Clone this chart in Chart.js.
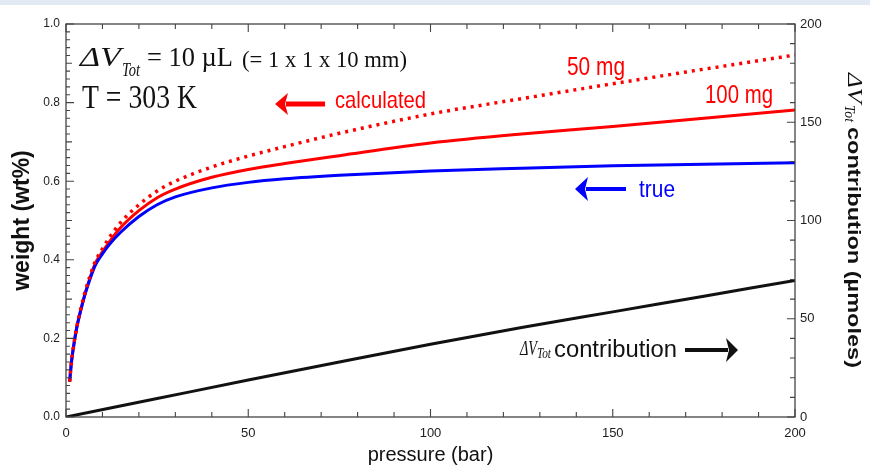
<!DOCTYPE html>
<html>
<head>
<meta charset="utf-8">
<title>weight vs pressure</title>
<script src="https://cdn.jsdelivr.net/npm/chart.js@4.4.1/dist/chart.umd.min.js"></script>
<style>
  html, body { margin: 0; padding: 0; background: #fff; }
  #wrap { width: 870px; height: 470px; }
</style>
</head>
<body>
<div id="wrap"><canvas id="chart" width="870" height="470"></canvas></div>
<script>
const pressure = [1, 1.5, 2, 3, 4, 5, 6, 8, 10, 12, 15, 20, 25, 30, 40, 50, 60, 75, 100, 125, 150, 175, 200];
// weight (wt%)
const weightTrue    = [0.09, 0.14, 0.175, 0.23, 0.27, 0.305, 0.335, 0.385, 0.415, 0.44, 0.47, 0.51, 0.54, 0.56, 0.583, 0.597, 0.606, 0.615, 0.626, 0.633, 0.639, 0.643, 0.647];
const weightCalc100 = [0.09, 0.14, 0.175, 0.23, 0.27, 0.306, 0.337, 0.39, 0.42, 0.447, 0.482, 0.525, 0.558, 0.58, 0.61, 0.63, 0.645, 0.665, 0.697, 0.72, 0.739, 0.76, 0.781];
const weightCalc50  = [0.09, 0.14, 0.176, 0.232, 0.273, 0.31, 0.342, 0.395, 0.428, 0.458, 0.495, 0.54, 0.575, 0.6, 0.636, 0.664, 0.688, 0.722, 0.771, 0.81, 0.848, 0.885, 0.921];
// ΔV_Tot contribution (µmoles), right axis
const pressureDV = [0, 25, 50, 75, 100, 125, 150, 175, 200];
const dvContribution = [0, 9.4, 18.8, 28, 37, 45.5, 53.5, 61.5, 69.5];
// tick labels
const xTicks = [0, 50, 100, 150, 200];
const weightTicks = [0, 0.2, 0.4, 0.6, 0.8, 1.0];
const dvTicks = [0, 50, 100, 150, 200];

const SANS = '"Liberation Sans", Arial, sans-serif';
const SERIF = '"Liberation Serif", "Times New Roman", serif';

const pts = (xs, ys) => xs.map((x, i) => ({ x, y: ys[i] }));
const fixTicks = list => s => { s.ticks = list.map(v => ({ value: v })); };

// draw text stretched/squeezed to a given length (the source figure is squeezed sideways)
function fitText(ctx, text, x, y, len, font, color, rot, thick) {
    ctx.save();
    ctx.font = font;
    ctx.fillStyle = color;
    ctx.textAlign = 'left';
    ctx.textBaseline = 'alphabetic';
    const w = ctx.measureText(text).width;
    ctx.translate(x, y);
    if (rot) ctx.rotate(rot);
    ctx.scale(len / w, thick || 1);
    ctx.fillText(text, 0, 0);
    ctx.restore();
}

function arrow(ctx, tail, tip, y, color, shaft, headLen, headHalf) {
    const dir = Math.sign(tip - tail);
    const back = tip - dir * headLen;
    ctx.save();
    ctx.fillStyle = color;
    ctx.fillRect(Math.min(tail, back + dir * 2), y - shaft / 2, Math.abs(back + dir * 2 - tail), shaft);
    ctx.beginPath();
    ctx.moveTo(tip, y);
    ctx.lineTo(back, y - headHalf);
    ctx.lineTo(back + dir * 3, y);
    ctx.lineTo(back, y + headHalf);
    ctx.closePath();
    ctx.fill();
    ctx.restore();
}

const figurePlugin = {
    id: 'figure',
    beforeDraw(chart) {
        const ctx = chart.ctx;
        ctx.save();
        ctx.fillStyle = '#e4eaf4';
        ctx.fillRect(0, 0, chart.width, 5);
        ctx.restore();
    },
    afterDatasetsDraw(chart) {
        const ctx = chart.ctx;
        const { left, right, top, bottom } = chart.chartArea;
        const xs = chart.scales.x, ys = chart.scales.y, y1 = chart.scales.y1;

        // frame + inward tick marks
        ctx.save();
        ctx.strokeStyle = '#444';
        ctx.lineWidth = 1.3;
        ctx.strokeRect(left, top, right - left, bottom - top);
        ctx.lineWidth = 1.1;
        ctx.beginPath();
        for (let v = 0; v <= 200; v += 10) {
            const px = xs.getPixelForValue(v);
            const l = v % 50 === 0 ? 8 : 5;
            ctx.moveTo(px, bottom); ctx.lineTo(px, bottom - l);
            ctx.moveTo(px, top); ctx.lineTo(px, top + l);
        }
        for (let i = 0; i <= 50; i++) {
            const py = ys.getPixelForValue(i * 0.02);
            const l = i % 10 === 0 ? 8 : (i % 5 === 0 ? 6 : 4);
            ctx.moveTo(left, py); ctx.lineTo(left + l, py);
        }
        for (let v = 0; v <= 200; v += 10) {
            const py = y1.getPixelForValue(v);
            const l = v % 50 === 0 ? 8 : 5;
            ctx.moveTo(right, py); ctx.lineTo(right - l, py);
        }
        ctx.stroke();
        ctx.restore();

        // top-left note
        fitText(ctx, 'ΔV', 80, 66, 41, 'italic 27px ' + SERIF, '#111');
        fitText(ctx, 'Tot', 122, 76, 18, 'italic 19px ' + SERIF, '#111');
        fitText(ctx, '= 10 µL', 147, 66, 86, '27px ' + SERIF, '#111');
        fitText(ctx, '(= 1 x 1 x 10 mm)', 242, 67, 165, '24px ' + SERIF, '#111');
        fitText(ctx, 'T = 303 K', 82, 108, 115, '34px ' + SERIF, '#111');

        // curve labels
        arrow(ctx, 325, 275, 104, '#ff0000', 5, 13, 11);
        fitText(ctx, 'calculated', 335, 108, 91, '24px ' + SANS, '#ff0000');
        fitText(ctx, '50 mg', 567, 75, 58, '25px ' + SANS, '#ff0000');
        fitText(ctx, '100 mg', 705, 103, 68, '25px ' + SANS, '#ff0000');
        arrow(ctx, 626, 575, 189, '#0000ff', 4, 13, 12);
        fitText(ctx, 'true', 639, 197, 36, '24px ' + SANS, '#0000ff');
        fitText(ctx, 'ΔV', 520, 355, 17, 'italic 21px ' + SERIF, '#111');
        fitText(ctx, 'Tot', 537, 358, 14, 'italic 14px ' + SERIF, '#111');
        fitText(ctx, 'contribution', 554, 357, 123, '23px ' + SANS, '#111');
        arrow(ctx, 685, 738, 350, '#111', 4, 12, 12);

        // right axis title, reads top to bottom
        const R = Math.PI / 2;
        fitText(ctx, 'ΔV', 848, 73, 30, 'italic 25px ' + SERIF, '#111', R, 0.85);
        fitText(ctx, 'Tot', 845, 105, 17, 'italic 17px ' + SERIF, '#111', R, 0.85);
        fitText(ctx, 'contribution (µmoles)', 848, 127, 241, 'bold 24px ' + SANS, '#111', R, 0.8);
    }
};

new Chart(document.getElementById('chart'), {
    type: 'line',
    data: {
        datasets: [
            { label: '50 mg', data: pts(pressure, weightCalc50), yAxisID: 'y', borderColor: '#ff0000', borderWidth: 3.5, borderDash: [3, 5] },
            { label: 'true', data: pts(pressure, weightTrue), yAxisID: 'y', borderColor: '#0000ff', borderWidth: 3 },
            { label: '100 mg', data: pts(pressure, weightCalc100), yAxisID: 'y', borderColor: '#ff0000', borderWidth: 3 },
            { label: 'ΔV_Tot contribution', data: pts(pressureDV, dvContribution), yAxisID: 'y1', borderColor: '#111', borderWidth: 3 }
        ]
    },
    options: {
        responsive: false,
        animation: false,
        devicePixelRatio: 1,
        layout: { padding: { top: 24, left: 0, right: 0, bottom: 0 } },
        elements: { point: { radius: 0 }, line: { cubicInterpolationMode: 'monotone', fill: false } },
        plugins: { legend: { display: false }, tooltip: { enabled: false } },
        scales: {
            x: {
                type: 'linear', min: 0, max: 200,
                afterBuildTicks: fixTicks(xTicks),
                afterFit: s => { s.height = 53; },
                grid: { display: false, drawTicks: false }, border: { display: false },
                ticks: { color: '#222', font: { family: SANS, size: 13 }, padding: 9, maxRotation: 0, autoSkip: false },
                title: { display: true, text: 'pressure (bar)', color: '#111', font: { family: SANS, size: 20, lineHeight: 1 }, padding: { top: 0, bottom: 5 } }
            },
            y: {
                position: 'left', min: 0, max: 1,
                afterBuildTicks: fixTicks(weightTicks),
                afterFit: s => { s.width = 66; },
                grid: { display: false, drawTicks: false }, border: { display: false },
                ticks: { color: '#222', font: { family: SANS, size: 12 }, padding: 6, callback: v => v.toFixed(1) },
                title: { display: true, text: 'weight (wt%)', color: '#111', font: { family: SANS, size: 23, weight: 'bold', lineHeight: 1 }, padding: { top: 11, bottom: 0 } }
            },
            y1: {
                position: 'right', min: 0, max: 200,
                afterBuildTicks: fixTicks(dvTicks),
                afterFit: s => { s.width = 75; },
                grid: { display: false, drawTicks: false }, border: { display: false },
                ticks: { color: '#222', font: { family: SANS, size: 13 }, padding: 5, callback: v => String(v) }
            }
        }
    },
    plugins: [figurePlugin]
});
</script>
</body>
</html>
